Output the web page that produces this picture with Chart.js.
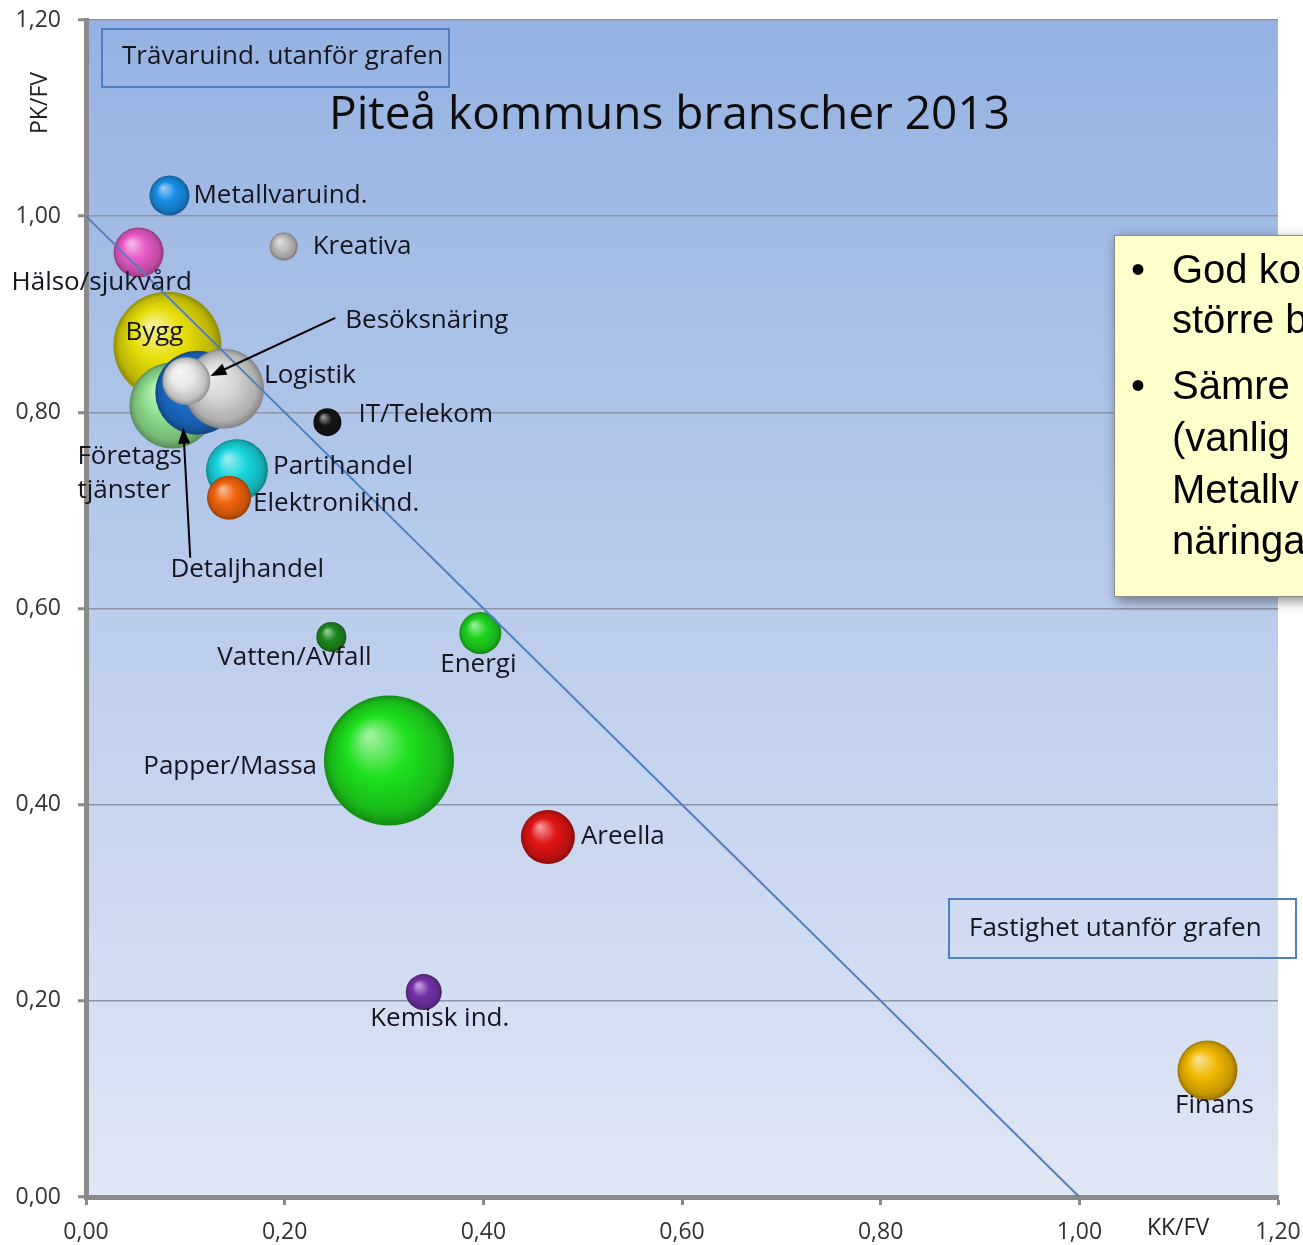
<!DOCTYPE html>
<html lang="sv">
<head>
<meta charset="utf-8">
<title>Piteå kommuns branscher 2013</title>
<script src="https://cdn.jsdelivr.net/npm/chart.js@4.4.1/dist/chart.umd.min.js"></script>
<style>
  html, body { margin: 0; padding: 0; background: #fff; overflow: hidden; }
  #wrap { width: 1303px; height: 1245px; position: relative; }
</style>
</head>
<body>
<div id="wrap"><canvas id="chart" width="1303" height="1245"></canvas></div>
<script>
// Branscher (KK/FV, PK/FV, bubbelradie i px)
const branscher = ['Metallvaruind.', 'Hälso/sjukvård', 'Kreativa', 'Bygg', 'Företagstjänster',
  'Detaljhandel', 'Logistik', 'Besöksnäring', 'IT/Telekom', 'Partihandel', 'Elektronikind.',
  'Vatten/Avfall', 'Energi', 'Papper/Massa', 'Areella', 'Kemisk ind.', 'Finans'];
const kkfv  = [0.084, 0.053, 0.199, 0.082, 0.087, 0.112, 0.139, 0.101, 0.243, 0.152, 0.144, 0.247, 0.397, 0.305, 0.465, 0.340, 1.129];
const pkfv  = [1.021, 0.963, 0.969, 0.868, 0.807, 0.820, 0.824, 0.832, 0.790, 0.741, 0.713, 0.571, 0.575, 0.445, 0.367, 0.209, 0.129];
const radie = [20, 25, 14, 54, 43, 42, 40, 24, 14, 31, 22, 15, 21, 65, 27, 18, 30];

// Diagonal linje (0;1) till (1;0)
const linjeX = [0, 1];
const linjeY = [1, 0];

// Axlarnas skalsteg
const xTicks = [0, 0.2, 0.4, 0.6, 0.8, 1.0, 1.2];
const yTicks = [0, 0.2, 0.4, 0.6, 0.8, 1.0, 1.2];

// Färg per bubbla
const farger = ['#1a8ee6', '#e85ac8', '#bdbdbd', '#e6de08', '#8fe08f', '#1c6fcf', '#d4d4d4', '#e8e8e8',
  '#151515', '#18d6de', '#f2640e', '#1e8a1e', '#1ed41e', '#1ee01e', '#e01414', '#7432a8', '#f0b800'];

// Etikettplacering: [dx, dy, justering] relativt bubblans mitt
const placering = {
  'Metallvaruind.': [24, 0, 'left'],
  'Hälso/sjukvård': [-37, 30, 'center'],
  'Kreativa': [29, 0, 'left'],
  'Bygg': [-13, -13, 'center'],
  'Företagstjänster': [-95, 51, 'left'],
  'Detaljhandel': [50, 177, 'center'],
  'Logistik': [40, -13, 'left'],
  'Besöksnäring': [159, -60, 'left'],
  'IT/Telekom': [31, -8, 'left'],
  'Partihandel': [36, -4, 'left'],
  'Elektronikind.': [24, 6, 'left'],
  'Vatten/Avfall': [-37, 21, 'center'],
  'Energi': [-2, 32, 'center'],
  'Papper/Massa': [-72, 6, 'right'],
  'Areella': [33, 0, 'left'],
  'Kemisk ind.': [16, 27, 'center'],
  'Finans': [7, 35, 'center']
};

function blanda(hex, mal, t) {
  const n = parseInt(hex.slice(1), 16);
  const r = (n >> 16) & 255, g = (n >> 8) & 255, b = n & 255;
  return `rgb(${Math.round(r + (mal - r) * t)},${Math.round(g + (mal - g) * t)},${Math.round(b + (mal - b) * t)})`;
}

// Klotliknande fyllning
function klot(c) {
  const i = c.dataIndex;
  if (c.type !== 'data' || i === undefined) return farger[0];
  const chart = c.chart;
  const px = chart.scales.x ? chart.scales.x.getPixelForValue(kkfv[i]) : NaN;
  const py = chart.scales.y ? chart.scales.y.getPixelForValue(pkfv[i]) : NaN;
  if (!isFinite(px) || !isFinite(py)) return farger[i];
  const r = radie[i];
  const g = chart.ctx.createRadialGradient(px - r * 0.3, py - r * 0.38, r * 0.05, px, py, r);
  g.addColorStop(0, blanda(farger[i], 255, 0.55));
  g.addColorStop(0.45, farger[i]);
  g.addColorStop(0.85, blanda(farger[i], 0, 0.18));
  g.addColorStop(1, blanda(farger[i], 0, 0.38));
  return g;
}

const bakgrund = {
  id: 'bakgrund',
  beforeDraw(chart) {
    const { ctx, chartArea: a } = chart;
    const g = ctx.createLinearGradient(0, a.top, 0, a.bottom);
    g.addColorStop(0, '#95b2e2');
    g.addColorStop(1, '#e0e7f5');
    ctx.save();
    ctx.fillStyle = g;
    ctx.fillRect(a.left, a.top, a.right - a.left, a.bottom - a.top);
    ctx.restore();
  }
};

function pil(ctx, x1, y1, x2, y2) {
  const v = Math.atan2(y2 - y1, x2 - x1);
  ctx.beginPath();
  ctx.moveTo(x1, y1);
  ctx.lineTo(x2 - 10 * Math.cos(v), y2 - 10 * Math.sin(v));
  ctx.stroke();
  ctx.beginPath();
  ctx.moveTo(x2, y2);
  ctx.lineTo(x2 - 16 * Math.cos(v) + 6 * Math.sin(v), y2 - 16 * Math.sin(v) - 6 * Math.cos(v));
  ctx.lineTo(x2 - 16 * Math.cos(v) - 6 * Math.sin(v), y2 - 16 * Math.sin(v) + 6 * Math.cos(v));
  ctx.closePath();
  ctx.fill();
}

const etiketter = {
  id: 'etiketter',
  afterDatasetsDraw(chart) {
    const ctx = chart.ctx;
    const meta = chart.getDatasetMeta(1);
    ctx.save();
    ctx.font = '26px "Open Sans"';
    ctx.strokeStyle = '#000';
    ctx.textBaseline = 'middle';
    meta.data.forEach((el, i) => {
      const namn = branscher[i];
      const [dx, dy, just] = placering[namn];
      ctx.fillStyle = '#15151f';
      ctx.textAlign = just;
      if (namn === 'Företagstjänster') {
        ctx.fillText('Företags', el.x + dx, el.y + dy);
        ctx.fillText('tjänster', el.x + dx, el.y + dy + 34);
      } else {
        ctx.fillText(namn, el.x + dx, el.y + dy);
      }
      ctx.lineWidth = 2;
      ctx.fillStyle = '#000';
      if (namn === 'Besöksnäring') pil(ctx, el.x + 149, el.y - 63, el.x + 24, el.y - 5);
      if (namn === 'Detaljhandel') pil(ctx, el.x - 7, el.y + 165, el.x - 14, el.y + 35);
    });
    ctx.restore();
  },
  afterDraw(chart) {
    const ctx = chart.ctx;
    ctx.save();
    // Rubrik
    ctx.fillStyle = '#0d0d0d';
    ctx.font = '46px "Open Sans"';
    ctx.textAlign = 'left';
    ctx.textBaseline = 'middle';
    ctx.fillText('Piteå kommuns branscher 2013', 329, 116);

    // Axeltitlar
    ctx.font = '23px "Open Sans"';
    ctx.fillStyle = '#222';
    ctx.textAlign = 'center';
    ctx.fillText('KK/FV', 1178, 1228);
    ctx.save();
    ctx.translate(40, 103);
    ctx.rotate(-Math.PI / 2);
    ctx.fillText('PK/FV', 0, 0);
    ctx.restore();

    // Textrutor
    ctx.strokeStyle = '#4f7fbd';
    ctx.lineWidth = 2;
    ctx.strokeRect(102, 29, 347, 58);
    ctx.strokeRect(949, 899, 347, 59);
    ctx.font = '26px "Open Sans"';
    ctx.fillStyle = '#15151f';
    ctx.textAlign = 'left';
    ctx.fillText('Trävaruind. utanför grafen', 122, 57);
    ctx.fillText('Fastighet utanför grafen', 969, 929);

    // Gul ruta (avskuren vid högerkanten)
    ctx.save();
    ctx.shadowColor = 'rgba(0,0,0,0.45)';
    ctx.shadowBlur = 12;
    ctx.shadowOffsetX = 3;
    ctx.shadowOffsetY = 4;
    ctx.fillStyle = '#ffffcc';
    ctx.fillRect(1114, 235, 220, 362);
    ctx.restore();
    ctx.strokeStyle = '#8a8a8a';
    ctx.lineWidth = 1;
    ctx.strokeRect(1114.5, 235.5, 220, 361);
    ctx.fillStyle = '#000';
    ctx.font = '40px "Liberation Sans"';
    ctx.fillText('•', 1131, 272);
    ctx.fillText('God ko', 1172, 272);
    ctx.fillText('större b', 1172, 322);
    ctx.fillText('•', 1131, 388);
    ctx.fillText('Sämre', 1172, 388);
    ctx.fillText('(vanlig', 1172, 440);
    ctx.fillText('Metallv', 1172, 492);
    ctx.fillText('näringa', 1172, 543);
    ctx.restore();
  }
};

const fmt = v => v.toFixed(2).replace('.', ',');
const nollPadding = s => { s.paddingTop = 0; s.paddingBottom = 0; s.paddingLeft = 0; s.paddingRight = 0; };

new Chart(document.getElementById('chart'), {
  type: 'bubble',
  data: {
    datasets: [
      {
        type: 'line',
        label: 'Gräns',
        data: linjeX.map((x, i) => ({ x, y: linjeY[i] })),
        borderColor: '#4f7fbd',
        borderWidth: 2,
        pointRadius: 0,
        fill: false,
        order: 0
      },
      {
        type: 'bubble',
        label: 'Branscher',
        data: branscher.map((n, i) => ({ x: kkfv[i], y: pkfv[i], r: radie[i] })),
        backgroundColor: klot,
        borderWidth: 0,
        order: 1
      }
    ]
  },
  options: {
    responsive: false,
    animation: false,
    layout: { autoPadding: false, padding: { top: 20, right: 25, left: 0, bottom: 0 } },
    plugins: { legend: { display: false }, tooltip: { enabled: false }, title: { display: false } },
    scales: {
      x: {
        type: 'linear',
        min: 0, max: 1.2,
        afterFit: s => { s.height = 48; nollPadding(s); },
        afterBuildTicks: s => { s.ticks = xTicks.map(v => ({ value: v })); },
        grid: { drawOnChartArea: false, tickLength: 8, tickColor: '#8a8a8a', tickWidth: 3 },
        border: { color: '#8a8a8a', width: 5 },
        ticks: { callback: fmt, font: { family: 'Open Sans', size: 23 }, color: '#333', padding: 14, maxRotation: 0 }
      },
      y: {
        type: 'linear',
        min: 0, max: 1.2,
        afterFit: s => { s.width = 86; nollPadding(s); },
        afterBuildTicks: s => { s.ticks = yTicks.map(v => ({ value: v })); },
        grid: { color: '#8c95a6', lineWidth: 1.5, tickLength: 8, tickColor: '#8a8a8a', tickWidth: 3 },
        border: { color: '#8a8a8a', width: 5 },
        ticks: { callback: fmt, font: { family: 'Open Sans', size: 23 }, color: '#333', padding: 17 }
      }
    }
  },
  plugins: [bakgrund, etiketter]
});
</script>
</body>
</html>
